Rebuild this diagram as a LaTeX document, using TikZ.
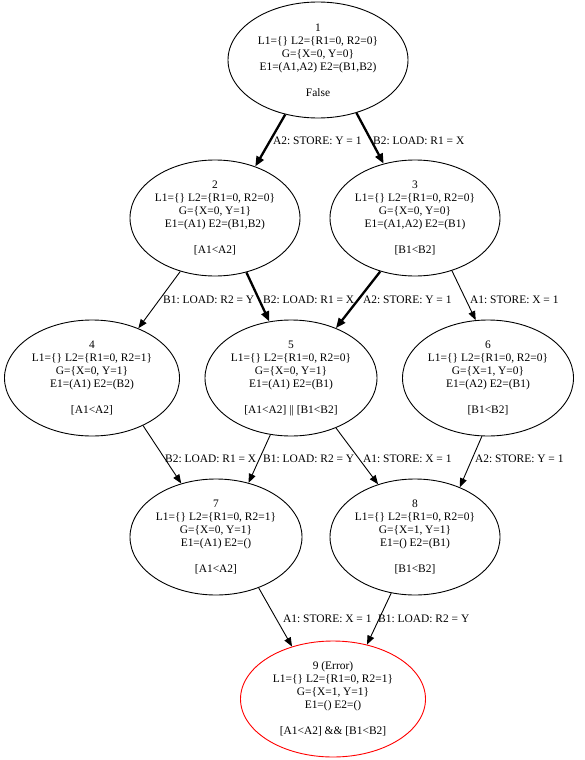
\documentclass[tikz,border=0pt]{standalone}
\usepackage{fontspec}
\setmainfont{Liberation Serif}
\frenchspacing
\usetikzlibrary{shapes.geometric,arrows.meta}
\begin{document}
\begin{tikzpicture}[x=1pt,y=-1pt,
  st/.style={ellipse, draw, line width=0.9pt, inner sep=0pt, minimum height=116pt},
  txt/.style={align=center, inner sep=0pt, font=\fontsize{11.45}{13}\selectfont\frenchspacing},
  lbl/.style={anchor=west, inner sep=0pt, font=\fontsize{11.45}{13}\selectfont\frenchspacing},
  thinedge/.style={line width=0.9pt, -{Triangle[length=9pt,width=7pt]}},
  thickedge/.style={line width=2.3pt, -{Triangle[length=10pt,width=8pt]}}]
\useasboundingbox (0,0) rectangle (585,760);
% states
\node[st, minimum width=180pt] (n1) at (318,60) {};
\node[txt] (t1) at (n1) {1\\L1=\{\} L2=\{R1=0, R2=0\}\\G=\{X=0, Y=0\}\\E1=(A1,A2) E2=(B1,B2)\\[13pt]False};
\node[st, minimum width=170pt] (n2) at (215,218) {};
\node[txt] (t2) at (n2) {2\\L1=\{\} L2=\{R1=0, R2=0\}\\G=\{X=0, Y=1\}\\E1=(A1) E2=(B1,B2)\\[13pt][A1<A2]};
\node[st, minimum width=170pt] (n3) at (415,218) {};
\node[txt] (t3) at (n3) {3\\L1=\{\} L2=\{R1=0, R2=0\}\\G=\{X=0, Y=0\}\\E1=(A1,A2) E2=(B1)\\[13pt][B1<B2]};
\node[st, minimum width=175pt] (n4) at (92,378) {};
\node[txt] (t4) at (n4) {4\\L1=\{\} L2=\{R1=0, R2=1\}\\G=\{X=0, Y=1\}\\E1=(A1) E2=(B2)\\[13pt][A1<A2]};
\node[st, minimum width=172pt] (n5) at (291,378) {};
\node[txt] (t5) at (n5) {5\\L1=\{\} L2=\{R1=0, R2=0\}\\G=\{X=0, Y=1\}\\E1=(A1) E2=(B1)\\[13pt][A1<A2] || [B1<B2]};
\node[st, minimum width=171pt] (n6) at (488,378) {};
\node[txt] (t6) at (n6) {6\\L1=\{\} L2=\{R1=0, R2=0\}\\G=\{X=1, Y=0\}\\E1=(A2) E2=(B1)\\[13pt][B1<B2]};
\node[st, minimum width=172pt] (n7) at (216,537) {};
\node[txt] (t7) at (n7) {7\\L1=\{\} L2=\{R1=0, R2=1\}\\G=\{X=0, Y=1\}\\E1=(A1) E2=()\\[13pt][A1<A2]};
\node[st, minimum width=170pt] (n8) at (415,537) {};
\node[txt] (t8) at (n8) {8\\L1=\{\} L2=\{R1=0, R2=0\}\\G=\{X=1, Y=1\}\\E1=() E2=(B1)\\[13pt][B1<B2]};
\node[st, draw=red, minimum width=185pt] (n9) at (333,699) {};
\node[txt] (t9) at (n9) {9 (Error)\\L1=\{\} L2=\{R1=0, R2=1\}\\G=\{X=1, Y=1\}\\E1=() E2=()\\[13pt][A1<A2] \&\& [B1<B2]};
% transitions
\draw[thickedge] (n1.239) -- (n2.52);
\draw[thickedge] (n1.306) -- (n3.120);
\draw[thinedge] (n2.237) -- (n4.47);
\draw[thickedge] (n2.300) -- (n5.111);
\draw[thickedge] (n3.237) -- (n5.48);
\draw[thinedge] (n3.305) -- (n6.102);
\draw[thinedge] (n4.317) -- (n7.123);
\draw[thinedge] (n5.250) -- (n7.59);
\draw[thinedge] (n5.312) -- (n8.125);
\draw[thinedge] (n6.264) -- (n8.48);
\draw[thinedge] (n7.310) -- (n9.128);
\draw[thinedge] (n8.247) -- (n9.58);
% labels
\node[lbl] (l12) at (273,141) {A2: STORE: Y = 1};
\node[lbl] (l13) at (373,141) {B2: LOAD: R1 = X};
\node[lbl] (l24) at (163,300) {B1: LOAD: R2 = Y};
\node[lbl] (l25) at (263,300) {B2: LOAD: R1 = X};
\node[lbl] (l35) at (363,300) {A2: STORE: Y = 1};
\node[lbl] (l36) at (470,300) {A1: STORE: X = 1};
\node[lbl] (l47) at (165,459) {B2: LOAD: R1 = X};
\node[lbl] (l57) at (263,459) {B1: LOAD: R2 = Y};
\node[lbl] (l58) at (363,459) {A1: STORE: X = 1};
\node[lbl] (l68) at (475,459) {A2: STORE: Y = 1};
\node[lbl] (l79) at (283,619) {A1: STORE: X = 1};
\node[lbl] (l89) at (378,619) {B1: LOAD: R2 = Y};
\end{tikzpicture}
\end{document}
